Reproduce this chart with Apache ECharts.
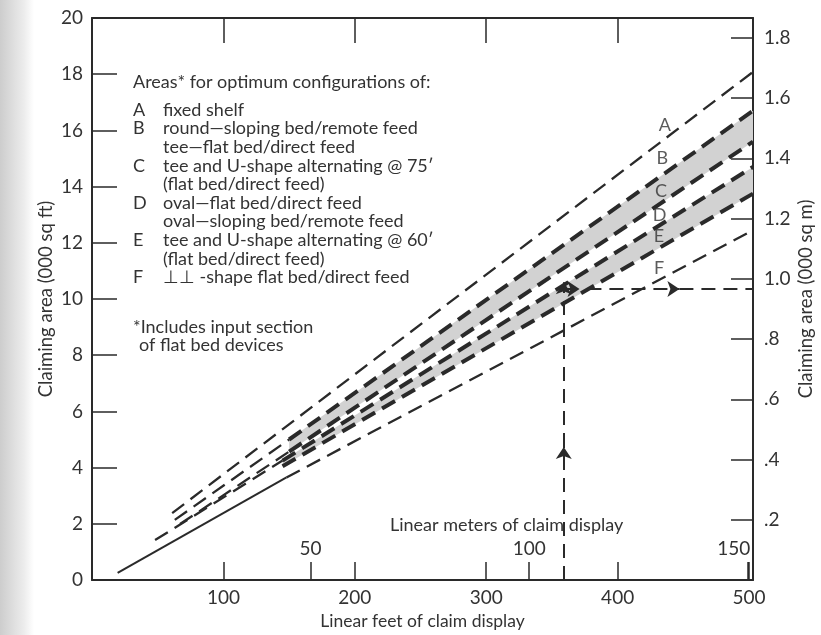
<!DOCTYPE html>
<html>
<head>
<meta charset="utf-8">
<script src="https://cdn.jsdelivr.net/npm/echarts/dist/echarts.min.js"></script>
<style>
html,body{margin:0;padding:0;background:#fff;}
#chart{width:821px;height:635px;}
</style>
</head>
<body>
<div id="chart"></div>
<script>
// ---- Data (linear feet of claim display, thousand sq ft) ----
const lineA = [[61, 2.38], [503, 18.08]];
const lineB_thin = [[63, 2.14], [150, 5.0]];
const lineB = [[150, 5.0], [503, 16.7]];
const lineC_thin = [[67, 1.99], [150, 4.57]];
const lineC = [[150, 4.57], [503, 15.6]];
const lineD_thin = [[48, 1.42], [145, 4.25]];
const lineD = [[145, 4.25], [503, 14.7]];
const lineE = [[145, 4.05], [503, 13.75]];
const lineF_solid = [[19.5, 0.25], [148, 3.65]];
const lineF = [[148, 3.65], [503, 12.45]];

// Example read-off (arrows)
const exampleFeet = 359;
const exampleArea = 10.36;
const arrowMidArea = 4.73;
const arrowTopArea = 10.6;
const arrowMidFeet = 447;

// Axis ticks
const feetTicks = [100, 200, 300, 400, 500];
const topFeetTicks = [100, 200, 300, 400];
const meterTicks = [50, 100, 150];
const sqftTicks = [0, 2, 4, 6, 8, 10, 12, 14, 16, 18, 20];
const sqmTicks = [0.2, 0.4, 0.6, 0.8, 1.0, 1.2, 1.4, 1.6, 1.8];
const sqmTickLabels = ['.2', '.4', '.6', '.8', '1.0', '1.2', '1.4', '1.6', '1.8'];

const curveLetters = ['A', 'B', 'C', 'D', 'E', 'F'];

const legendHeader = 'Areas* for optimum configurations of:';
const legendLetters = ['A', 'B', '', 'C', '', 'D', '', 'E', '', 'F'];
const legendTexts = [
  'fixed shelf',
  'round\u2014sloping bed/remote feed',
  'tee\u2014flat bed/direct feed',
  'tee and U-shape alternating @ 75\u2032',
  '(flat bed/direct feed)',
  'oval\u2014flat bed/direct feed',
  'oval\u2014sloping bed/remote feed',
  'tee and U-shape alternating @ 60\u2032',
  '(flat bed/direct feed)',
  '\u22A5\u22A5 -shape flat bed/direct feed'
];
const footnote = ['*Includes input section', 'of flat bed devices'];

// ---- Chart ----
const FONT = 'Lato';
const INK = '#2a2a2a';
const TXT = '#333';
const LEG = '18px ' + FONT;
const chart = echarts.init(document.getElementById('chart'), null, {renderer: 'canvas'});

const bands = [[lineB, lineC], [lineD, lineE]];

function dashed(data, width, solid) {
  return {
    type: 'line', xAxisIndex: 0, yAxisIndex: 0, data: data,
    showSymbol: false, symbol: 'none', silent: true, z: 3,
    lineStyle: {color: INK, width: width, type: solid ? 'solid' : [15, 8], cap: 'butt'}
  };
}

function txt(x, yc, s) {
  return {type: 'text', x: x, y: yc, style: {text: s, font: LEG, fill: TXT, textVerticalAlign: 'middle', verticalAlign: 'middle'}};
}

const legendGraphics = [];
legendGraphics.push(txt(133, 82, legendHeader));
legendTexts.forEach(function (t, i) {
  const y = 110 + i * 18.6;
  if (legendLetters[i]) legendGraphics.push(txt(133, y, legendLetters[i]));
  legendGraphics.push(txt(163, y, t));
});
legendGraphics.push(txt(133, 327, footnote[0]));
legendGraphics.push(txt(139, 345, footnote[1]));
legendGraphics.push(txt(390, 525, 'Linear meters of claim display'));

const option = {
  animation: false,
  backgroundColor: '#fff',
  textStyle: {fontFamily: FONT},
  graphic: [
    {type: 'rect', left: 0, top: 0, z: -10, shape: {width: 34, height: 635},
     style: {fill: new echarts.graphic.LinearGradient(0, 0, 1, 0, [
       {offset: 0, color: '#cdcdcd'}, {offset: 0.7, color: '#ececec'}, {offset: 1, color: '#ffffff'}])}}
  ].concat(legendGraphics),
  grid: {left: 92, right: 68, top: 18, bottom: 55, containLabel: false, outerBoundsMode: 'none'},
  xAxis: [
    {
      type: 'value', position: 'bottom', min: 0, max: 503, interval: 100,
      axisLine: {show: true, onZero: false, lineStyle: {color: INK, width: 2}},
      axisTick: {show: true, inside: true, length: 18, customValues: feetTicks, lineStyle: {color: INK, width: 1.5}},
      axisLabel: {margin: 8, fontSize: 19, color: TXT, fontFamily: FONT, customValues: feetTicks},
      splitLine: {show: false},
      name: 'Linear feet of claim display', nameLocation: 'middle', nameGap: 32, nameMoveOverlap: false,
      nameTextStyle: {fontSize: 17.5, color: TXT, fontFamily: FONT}
    },
    {
      type: 'value', position: 'top', min: 0, max: 503, interval: 100,
      axisLine: {show: true, onZero: false, lineStyle: {color: INK, width: 2}},
      axisTick: {show: true, inside: true, length: 25, customValues: topFeetTicks, lineStyle: {color: INK, width: 1.5}},
      axisLabel: {show: false}, splitLine: {show: false}
    },
    {
      type: 'value', position: 'bottom', offset: 0, min: 0, max: 151.2, interval: 50,
      axisLine: {show: false, onZero: false},
      axisTick: {show: true, inside: true, length: 18, customValues: meterTicks, lineStyle: {color: INK, width: 1.5}},
      axisLabel: {inside: true, margin: 22, fontSize: 19, color: TXT, fontFamily: FONT, customValues: meterTicks,
        formatter: function (v) { return v === meterTicks[meterTicks.length - 1] ? '{r|' + v + '}' : String(v); },
        rich: {r: {fontSize: 19, color: TXT, fontFamily: FONT, padding: [0, 28, 0, 0]}}},
      splitLine: {show: false}
    }
  ],
  yAxis: [
    {
      type: 'value', position: 'left', min: 0, max: 20, interval: 2,
      axisLine: {show: true, onZero: false, lineStyle: {color: INK, width: 2}},
      axisTick: {show: true, inside: true, length: 25, customValues: sqftTicks, lineStyle: {color: INK, width: 1.5}},
      axisLabel: {margin: 9, fontSize: 19, color: TXT, fontFamily: FONT, customValues: sqftTicks},
      splitLine: {show: false},
      name: 'Claiming area (000 sq ft)', nameLocation: 'middle', nameGap: 36, nameRotate: 90, nameMoveOverlap: false,
      nameTextStyle: {fontSize: 18.5, color: TXT, fontFamily: FONT}
    },
    {
      type: 'value', position: 'right', min: 0, max: 1.866, interval: 0.2,
      axisLine: {show: true, onZero: false, lineStyle: {color: INK, width: 2}},
      axisTick: {show: true, inside: true, length: 22, customValues: sqmTicks, lineStyle: {color: INK, width: 1.5}},
      axisLabel: {margin: 11, fontSize: 19, color: TXT, fontFamily: FONT, customValues: sqmTicks,
        formatter: function (v) {
          const i = sqmTicks.findIndex(function (t) { return Math.abs(t - v) < 1e-6; });
          return i >= 0 ? sqmTickLabels[i] : '';
        }},
      splitLine: {show: false},
      name: 'Claiming area (000 sq m)', nameLocation: 'middle', nameGap: 44, nameRotate: 90, nameMoveOverlap: false,
      nameTextStyle: {fontSize: 18.5, color: TXT, fontFamily: FONT}
    }
  ],
  series: [
    {
      type: 'custom', xAxisIndex: 0, yAxisIndex: 0, data: [0, 1], silent: true, z: 1,
      renderItem: function (params, api) {
        const b = bands[params.dataIndex];
        const top = b[0], bot = b[1];
        const pts = [top[0], top[1], bot[1], bot[0]].map(function (p) { return api.coord(p); });
        return {type: 'polygon', shape: {points: pts}, style: {fill: '#d2d2d2'}};
      }
    },
    dashed(lineA, 2.3),
    dashed(lineB_thin, 2.3),
    dashed(lineB, 4),
    dashed(lineC_thin, 2.3),
    dashed(lineC, 4),
    dashed(lineD_thin, 2.3),
    dashed(lineD, 4),
    dashed(lineE, 4),
    dashed(lineF_solid, 2, true),
    dashed(lineF, 2.3),
    {
      type: 'lines', coordinateSystem: 'cartesian2d', xAxisIndex: 0, yAxisIndex: 0, z: 4, silent: true,
      symbol: ['none', 'arrow'], symbolSize: [10, 12],
      lineStyle: {color: INK, width: 2, type: [14, 8], opacity: 1, curveness: 0},
      data: [
        {coords: [[exampleFeet, 0], [exampleFeet, arrowMidArea]]},
        {coords: [[exampleFeet, arrowMidArea], [exampleFeet, arrowTopArea]]},
        {coords: [[exampleFeet, exampleArea], [exampleFeet + 12, exampleArea]]},
        {coords: [[exampleFeet + 18, exampleArea], [arrowMidFeet, exampleArea]]},
        {coords: [[arrowMidFeet, exampleArea], [503, exampleArea]], symbol: ['none', 'none']}
      ]
    },
    {
      type: 'scatter', xAxisIndex: 0, yAxisIndex: 0, symbolSize: 0, silent: true, z: 5,
      data: [[436, 16.2], [434, 15.0], [433, 13.85], [432, 13.0], [431.5, 12.25], [431.5, 11.1]],
      label: {show: true, position: 'inside', fontSize: 18, color: TXT, fontFamily: FONT,
        formatter: function (p) { return curveLetters[p.dataIndex]; }}
    }
  ]
};
chart.setOption(option);
</script>
</body>
</html>
